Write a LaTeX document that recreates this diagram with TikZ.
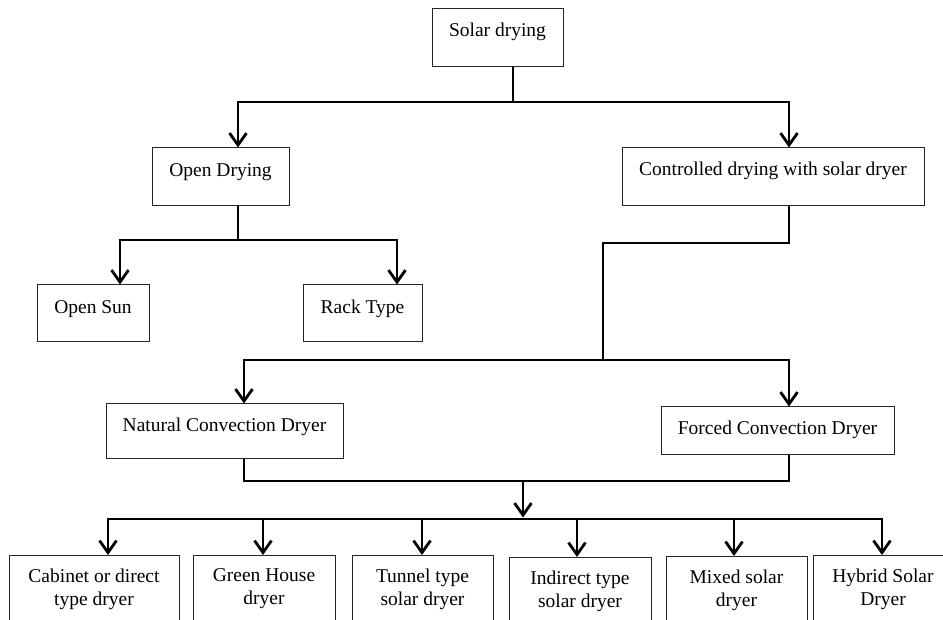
\documentclass[tikz,border=0pt]{standalone}
\usepackage{fontspec}
\setmainfont{Liberation Serif}
\usetikzlibrary{arrows.meta}
\begin{document}
\begin{tikzpicture}[x=1pt,y=-1pt,
  txt/.style={font=\fontsize{19.5}{23}\selectfont},
  box/.style={txt,draw=black!85,line width=1pt,inner sep=0pt,text height=9pt,text depth=9pt},
  tallbox/.style={draw=black!85,line width=1pt,anchor=north,inner sep=0pt,minimum height=90pt},
  lbl/.style={txt,anchor=north,align=center,inner sep=0pt,yshift=-13.7pt},
  conn/.style={line width=2.8pt},
  tip/.tip={Straight Barb[length=12pt,width=17pt]},
  arr/.style={conn,-tip},
  arrtwo/.style={conn,tip-tip}]
\useasboundingbox (0,0) rectangle (943,620);
\clip (0,0) rectangle (943,620);

% boxes
\node[box,minimum width=131pt,minimum height=58pt,text height=7.5pt,text depth=10.5pt] (solar) at (497.5,38) {Solar drying};
\node[box,minimum width=137pt,minimum height=58pt] (open) at (220.5,177) {Open Drying};
\node[box,minimum width=302pt,minimum height=58pt,text height=7.5pt,text depth=10.5pt] (ctrl) at (773,177) {Controlled drying with solar dryer};
\node[box,minimum width=112pt,minimum height=57pt] (osun) at (93,313.5) {Open Sun};
\node[box,minimum width=119pt,minimum height=57pt] (rack) at (362.5,313.5) {Rack Type};
\node[box,minimum width=237pt,minimum height=54pt,text height=9.75pt,text depth=8.25pt] (nat) at (224.5,431) {Natural Convection Dryer};
\node[box,minimum width=233pt,minimum height=47pt,text height=13.5pt,text depth=4.5pt] (forc) at (777.5,430.5) {Forced Convection Dryer};

\node[tallbox,minimum width=170pt] (b1) at (94,555) {};
\node[tallbox,minimum width=142pt] (b2) at (264,555) {};
\node[tallbox,minimum width=141pt] (b3) at (422.5,555) {};
\node[tallbox,minimum width=142pt] (b4) at (580,557) {};
\node[tallbox,minimum width=141pt] (b5) at (736.5,556) {};
\node[tallbox,minimum width=140pt] (b6) at (883,555) {};
\node[lbl] (t1) at (b1.north) {Cabinet or direct\\type dryer};
\node[lbl] (t2) at (b2.north) {Green House\\dryer};
\node[lbl] (t3) at (b3.north) {Tunnel type\\solar dryer};
\node[lbl] (t4) at (b4.north) {Indirect type\\solar dryer};
\node[lbl] (t5) at (b5.north) {Mixed solar\\dryer};
\node[lbl] (t6) at (b6.north) {Hybrid Solar\\Dryer};

% level 1
\coordinate (j1) at (513,102);
\coordinate (h1L) at (238,102);
\coordinate (h1R) at (789,102);
\draw[conn] (solar.south -| j1) -- (j1);
\draw[arrtwo] (open.north -| h1L) -- (h1L) -- (h1R) -- (ctrl.north -| h1R);

% open drying branch
\coordinate (j2) at (238,240);
\coordinate (h2L) at (120,240);
\coordinate (h2R) at (397,240);
\draw[conn] (open.south -| j2) -- (j2);
\draw[arrtwo] (osun.north -| h2L) -- (h2L) -- (h2R) -- (rack.north -| h2R);

% controlled branch
\coordinate (k1) at (789,243);
\coordinate (k2) at (603,243);
\coordinate (k3) at (603,360);
\coordinate (h3L) at (244,360);
\coordinate (h3R) at (789,360);
\draw[conn] (ctrl.south -| k1) -- (k1) -- (k2) -- (k3);
\draw[arrtwo] (nat.north -| h3L) -- (h3L) -- (h3R) -- (forc.north -| h3R);

% merge
\coordinate (m1) at (244,481);
\coordinate (m2) at (789,481);
\coordinate (m3) at (523,481);
\coordinate (m4) at (523,517.5);
\draw[conn] (nat.south -| m1) -- (m1) -- (m2) -- (forc.south -| m2);
\draw[arr] (m3) -- (m4);

% bottom row
\coordinate (c1) at (108,519);
\coordinate (c2) at (263,519);
\coordinate (c3) at (422,519);
\coordinate (c4) at (577,519);
\coordinate (c5) at (734,519);
\coordinate (c6) at (882,519);
\draw[arrtwo] (b1.north -| c1) -- (c1) -- (c6) -- (b6.north -| c6);
\draw[arr] (c2) -- (b2.north -| c2);
\draw[arr] (c3) -- (b3.north -| c3);
\draw[arr] (c4) -- (b4.north -| c4);
\draw[arr] (c5) -- (b5.north -| c5);
\end{tikzpicture}
\end{document}
